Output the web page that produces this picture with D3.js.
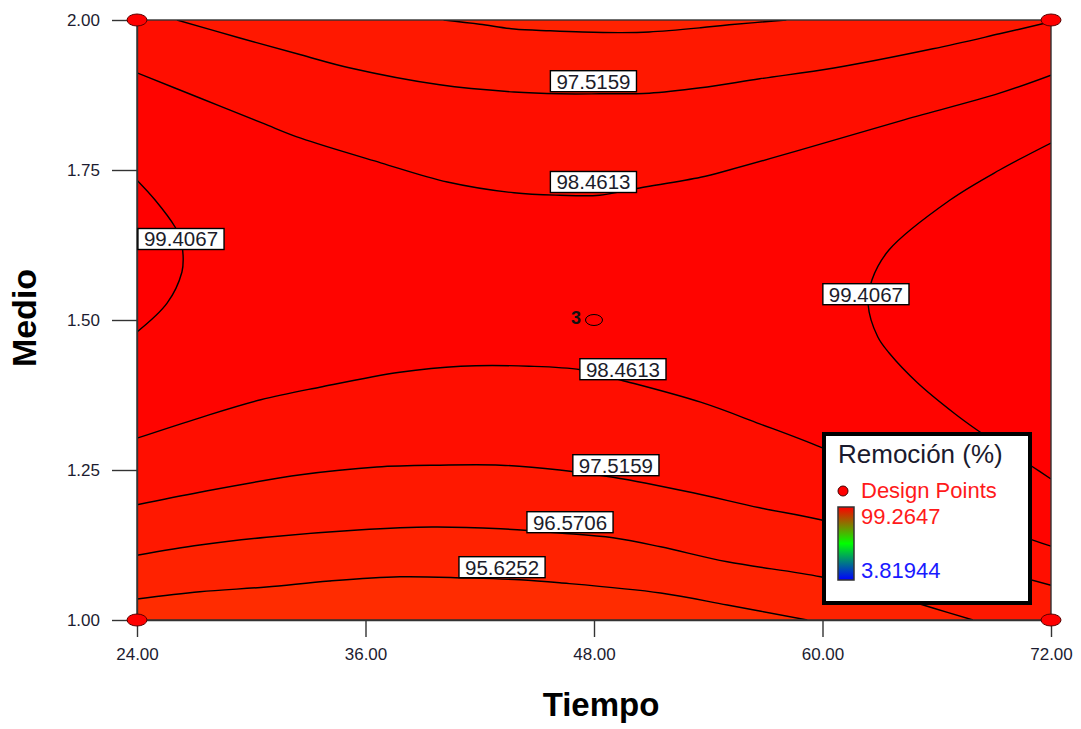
<!DOCTYPE html>
<html>
<head>
<meta charset="utf-8">
<script src="https://cdn.jsdelivr.net/npm/d3@7"></script>
<style>
  html, body { margin: 0; padding: 0; background: #fff; }
  svg { display: block; font-family: "Liberation Sans", Arial, sans-serif; }
</style>
</head>
<body>
<svg id="chart" width="1081" height="729"></svg>
<script>
// ---- Axis ticks ----
const tiempoTicks = [24, 36, 48, 60, 72];
const medioTicks = [1.00, 1.25, 1.50, 1.75, 2.00];

// ---- Response range shown in the legend ----
const responseMax = 99.2647;
const responseMin = 3.81944;

// ---- Contour levels, Remoción (%) ----
const contourLevels = [95.6252, 96.5706, 97.5159, 98.4613, 99.4067];

// ---- Contour traces, [Tiempo, Medio] ----
const trace96_5706Top = [[40.1, 2.000], [42.0, 1.993], [43.8, 1.985], [45.7, 1.982], [47.4, 1.980],
  [49.4, 1.979], [50.9, 1.980], [53.6, 1.987], [55.1, 1.992], [58.1, 2.000]];
const trace97_5159Top = [[26.1, 2.000], [29.4, 1.970], [32.6, 1.942], [35.2, 1.920], [39.9, 1.892],
  [43.8, 1.880], [46.2, 1.877], [48.3, 1.877], [50.9, 1.878], [53.6, 1.887], [56.7, 1.902],
  [60.6, 1.920], [65.8, 1.952], [69.3, 1.977], [72.0, 1.997]];
const trace98_4613Top = [[24.0, 1.912], [27.3, 1.870], [30.6, 1.828], [32.6, 1.803], [36.8, 1.762],
  [40.3, 1.730], [43.8, 1.712], [46.2, 1.708], [48.3, 1.708], [50.4, 1.720], [53.6, 1.738],
  [55.1, 1.750], [58.8, 1.783], [64.1, 1.832], [69.3, 1.878], [72.0, 1.908]];
const trace99_4067Left = [[24.0, 1.733], [24.95, 1.700], [26.0, 1.655], [26.31, 1.633], [26.42, 1.608],
  [26.36, 1.580], [25.58, 1.528], [24.0, 1.480]];
const trace99_4067Right = [[72.0, 1.795], [69.3, 1.750], [66.7, 1.700], [63.5, 1.617], [62.6, 1.567],
  [62.4, 1.525], [62.9, 1.472], [63.5, 1.445], [65.0, 1.395], [66.9, 1.345], [68.1, 1.317],
  [69.6, 1.285], [71.05, 1.255], [72.0, 1.235]];
const trace98_4613Low = [[24.0, 1.303], [27.3, 1.337], [30.5, 1.367], [33.6, 1.388], [37.8, 1.413],
  [41.0, 1.423], [44.6, 1.423], [47.3, 1.417], [49.4, 1.400], [53.6, 1.363], [56.7, 1.327],
  [59.9, 1.288], [64.1, 1.228], [67.75, 1.175], [71.05, 1.133], [72.0, 1.123]];
const trace97_5159Low = [[24.0, 1.192], [27.3, 1.213], [32.6, 1.242], [36.6, 1.255], [39.9, 1.258],
  [43.1, 1.258], [46.2, 1.250], [49.0, 1.238], [53.2, 1.212], [56.7, 1.187], [59.9, 1.167],
  [64.1, 1.128], [68.3, 1.090], [72.0, 1.058]];
const trace96_5706Low = [[24.0, 1.108], [27.3, 1.125], [30.8, 1.138], [35.6, 1.150], [39.5, 1.155],
  [43.1, 1.152], [46.2, 1.145], [49.0, 1.137], [51.5, 1.122], [55.0, 1.097], [59.9, 1.072],
  [63.0, 1.047], [65.8, 1.020], [67.9, 1.000]];
const trace95_6252 = [[24.0, 1.035], [27.3, 1.047], [30.8, 1.055], [34.1, 1.065], [37.8, 1.072],
  [41.3, 1.070], [44.1, 1.067], [46.2, 1.062], [51.5, 1.045], [55.0, 1.025], [59.2, 1.000]];

// ---- Contour labels: level index, position [Tiempo, Medio] ----
const labelLevelIndex = [2, 3, 4, 4, 3, 2, 1, 0];
const labelTiempo = [47.97, 47.97, 26.31, 62.28, 49.52, 49.15, 46.74, 43.17];
const labelMedio = [1.898, 1.730, 1.635, 1.543, 1.418, 1.258, 1.163, 1.088];

// ---- Design points ----
const designTiempo = [24, 72, 24, 72, 48];
const designMedio = [1.00, 1.00, 2.00, 2.00, 1.50];
const designReplicates = [1, 1, 1, 1, 3];

// ------------------------------------------------------------------
const svg = d3.select("#chart");
const x = d3.scaleLinear().domain([24, 72]).range([137, 1051]);
const y = d3.scaleLinear().domain([1, 2]).range([620, 20]);
const step = contourLevels[1] - contourLevels[0];

// Fill colour: hue runs from red (max response) to blue (min response)
function fillFor(v) {
  const f = (responseMax - v) / (responseMax - responseMin);
  const h = Math.max(0, Math.min(240, 240 * f));
  return d3.hsl(h, 1, 0.5).formatHex();
}

// Each contour with the side of lower/higher response and the plot corners closing its region
const contours = [
  { level: contourLevels[3], pts: trace98_4613Top, side: "low", corners: [[72, 2], [24, 2]] },
  { level: contourLevels[2], pts: trace97_5159Top, side: "low", corners: [[72, 2]] },
  { level: contourLevels[1], pts: trace96_5706Top, side: "low", corners: [] },
  { level: contourLevels[3], pts: trace98_4613Low, side: "low", corners: [[72, 1], [24, 1]] },
  { level: contourLevels[2], pts: trace97_5159Low, side: "low", corners: [[72, 1], [24, 1]] },
  { level: contourLevels[1], pts: trace96_5706Low, side: "low", corners: [[24, 1]] },
  { level: contourLevels[0], pts: trace95_6252, side: "low", corners: [[24, 1]] },
  { level: contourLevels[4], pts: trace99_4067Left, side: "high", corners: [] },
  { level: contourLevels[4], pts: trace99_4067Right, side: "high", corners: [] }
];

const lineGen = d3.line()
  .x(d => x(d[0]))
  .y(d => y(d[1]))
  .curve(d3.curveCatmullRom.alpha(0.5));

const defs = svg.append("defs");
defs.append("clipPath").attr("id", "plotClip")
  .append("rect")
  .attr("x", x(24)).attr("y", y(2))
  .attr("width", x(72) - x(24)).attr("height", y(1) - y(2));

const grad = defs.append("linearGradient").attr("id", "legendGrad")
  .attr("x1", 0).attr("y1", 0).attr("x2", 0).attr("y2", 1);
grad.append("stop").attr("offset", "0%").attr("stop-color", "#ff0000");
grad.append("stop").attr("offset", "50%").attr("stop-color", "#00ff00");
grad.append("stop").attr("offset", "100%").attr("stop-color", "#0000ff");

const plot = svg.append("g").attr("clip-path", "url(#plotClip)");

// Base band between the two highest levels
plot.append("rect")
  .attr("x", x(24)).attr("y", y(2))
  .attr("width", x(72) - x(24)).attr("height", y(1) - y(2))
  .attr("fill", fillFor((contourLevels[3] + contourLevels[4]) / 2));

// Filled regions beyond each contour
plot.selectAll("path.band")
  .data(contours)
  .join("path")
  .attr("class", "band")
  .attr("d", c => lineGen(c.pts) + c.corners.map(k => `L${x(k[0])},${y(k[1])}`).join("") + "Z")
  .attr("fill", c => fillFor(c.side === "low" ? c.level - step / 2 : c.level + step / 2))
  .attr("stroke", "none");

// Contour lines
plot.selectAll("path.contour")
  .data(contours)
  .join("path")
  .attr("class", "contour")
  .attr("d", c => lineGen(c.pts))
  .attr("fill", "none")
  .attr("stroke", "#000")
  .attr("stroke-width", 1.4);

// Plot frame
svg.append("rect")
  .attr("x", x(24)).attr("y", y(2))
  .attr("width", x(72) - x(24)).attr("height", y(1) - y(2))
  .attr("fill", "none").attr("stroke", "#333").attr("stroke-width", 1.4);

// Axes
const xAxis = svg.append("g")
  .attr("transform", `translate(0,${y(1)})`)
  .call(d3.axisBottom(x).tickValues(tiempoTicks).tickFormat(d3.format(".2f"))
    .tickSize(17).tickSizeOuter(0).tickPadding(11));
const yAxis = svg.append("g")
  .attr("transform", `translate(${x(24)},0)`)
  .call(d3.axisLeft(y).tickValues(medioTicks).tickFormat(d3.format(".2f"))
    .tickSize(25).tickSizeOuter(0).tickPadding(12));
[xAxis, yAxis].forEach(a => {
  a.select(".domain").attr("stroke", "#333").attr("stroke-width", 1.4);
  a.selectAll(".tick line").attr("stroke", "#333").attr("stroke-width", 1.4);
  a.selectAll(".tick text")
    .attr("fill", "#1c1c30")
    .style("font-family", "'Liberation Sans', Arial, sans-serif")
    .style("font-size", "17px");
});

// Axis titles
svg.append("text")
  .attr("x", 601).attr("y", 716)
  .attr("text-anchor", "middle")
  .style("font-size", "33px").style("font-weight", "bold")
  .attr("fill", "#000")
  .text("Tiempo");
svg.append("text")
  .attr("transform", "translate(36,318) rotate(-90)")
  .attr("text-anchor", "middle")
  .style("font-size", "34px").style("font-weight", "bold")
  .attr("fill", "#000")
  .text("Medio");

// Contour labels
const labels = svg.append("g").selectAll("g")
  .data(labelLevelIndex.map((li, i) => ({ value: contourLevels[li], t: labelTiempo[i], m: labelMedio[i] })))
  .join("g")
  .attr("transform", d => `translate(${x(d.t)},${y(d.m)})`);
labels.append("rect");
labels.append("text")
  .attr("text-anchor", "middle")
  .attr("dy", "0.36em")
  .style("font-size", "20.5px")
  .attr("fill", "#1c1c2a")
  .text(d => d.value.toFixed(4));
labels.each(function () {
  const g = d3.select(this);
  const w = g.select("text").node().getComputedTextLength() + 12;
  g.select("rect")
    .attr("x", -w / 2).attr("y", -10.5)
    .attr("width", w).attr("height", 21)
    .attr("fill", "#fff").attr("stroke", "#000").attr("stroke-width", 1.4);
});

// Design points
const dp = svg.append("g").selectAll("g")
  .data(designTiempo.map((t, i) => ({ t, m: designMedio[i], n: designReplicates[i] })))
  .join("g")
  .attr("transform", d => `translate(${x(d.t)},${y(d.m)})`);
dp.append("ellipse")
  .attr("rx", d => d.n > 1 ? 8.5 : 10)
  .attr("ry", d => d.n > 1 ? 5.5 : 6)
  .attr("fill", "#ff0000")
  .attr("stroke", d => d.n > 1 ? "#000" : "#5a0000")
  .attr("stroke-width", 1);
dp.filter(d => d.n > 1).append("text")
  .attr("x", -13).attr("y", 4)
  .attr("text-anchor", "end")
  .style("font-size", "18px").style("font-weight", "bold")
  .attr("fill", "#111")
  .text(d => d.n);

// Legend
const lg = svg.append("g");
lg.append("rect")
  .attr("x", 824).attr("y", 434).attr("width", 206).attr("height", 169)
  .attr("fill", "#fff").attr("stroke", "#000").attr("stroke-width", 4);
lg.append("text")
  .attr("x", 838).attr("y", 463)
  .style("font-size", "26px").attr("fill", "#1a1a2e")
  .text("Remoción (%)");
lg.append("circle")
  .attr("cx", 843).attr("cy", 491).attr("r", 5)
  .attr("fill", "#ff0000").attr("stroke", "#400").attr("stroke-width", 1);
lg.append("text")
  .attr("x", 861).attr("y", 497.5)
  .style("font-size", "22px").attr("fill", "#ff1a1a")
  .text("Design Points");
lg.append("rect")
  .attr("x", 838).attr("y", 507).attr("width", 16).attr("height", 73)
  .attr("fill", "url(#legendGrad)").attr("stroke", "#333").attr("stroke-width", 1.5);
lg.append("text")
  .attr("x", 861).attr("y", 524)
  .style("font-size", "22px").attr("fill", "#ff1a1a")
  .text(responseMax.toFixed(4));
lg.append("text")
  .attr("x", 861).attr("y", 578)
  .style("font-size", "22px").attr("fill", "#1a1aff")
  .text(responseMin.toFixed(5));
</script>
</body>
</html>
